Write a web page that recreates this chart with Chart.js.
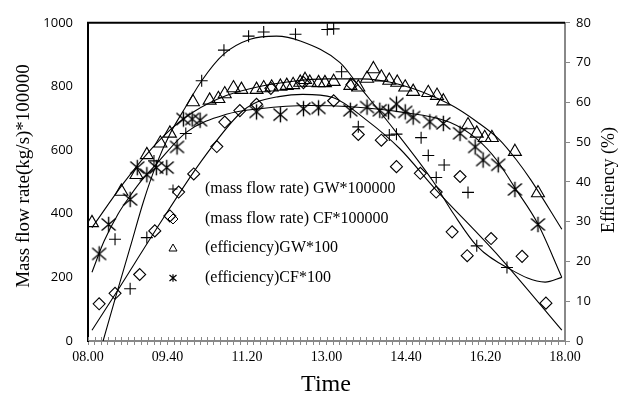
<!DOCTYPE html>
<html>
<head>
<meta charset="utf-8">
<script src="https://cdn.jsdelivr.net/npm/chart.js@4.4.1/dist/chart.umd.min.js"></script>
<style>
html,body{margin:0;padding:0;background:#fff;}
#wrap{width:625px;height:403px;}
</style>
</head>
<body>
<div id="wrap"><canvas id="chart" width="625" height="403"></canvas></div>
<script>
// time axis in minutes after 08.00
const timeLabels = ['08.00','09.40','11.20','13.00','14.40','16.20','18.00'];

// mass flow rate GW*100000 (left axis)
const gwFlowTime = [34,53,74,83,123,143,171,202,221,261,301,309,319,340,379,388,419,428,438,448,478,489,527];
const gwFlow     = [320,164,325,566,652,818,914,958,971,964,979,981,846,673,647,650,639,583,514,553,467,299,231];

// mass flow rate CF*100000 (left axis)
const cfFlowTime = [14,34,65,84,103,114,133,162,172,191,212,230,271,309,332,340,369,388,418,438,458,468,477,507,546,576];
const cfFlow     = [117,150,209,346,393,468,525,611,688,724,744,794,812,755,806,649,631,548,527,468,343,517,268,322,266,119];

// efficiency GW (right axis, %)
const gwEffTime = [5,42,61,74,91,103,132,153,164,172,183,193,212,221,231,242,250,258,267,273,279,290,298,309,330,340,351,359,369,379,389,399,409,428,439,447,478,489,499,508,537,566];
const gwEff     = [29.7,37.6,41.8,46.8,49.7,52.2,60.1,60.5,60.9,62.1,63.6,63.2,63.2,63.6,63.8,64.0,64.2,64.4,65.0,65.7,65.0,64.9,64.9,65.2,64.2,63.8,66.0,68.4,66.3,65.5,65.0,63.8,62.7,62.4,61.7,60.3,54.3,52.2,51.1,51.1,47.6,37.2];

// efficiency CF (right axis, %)
const cfEffTime = [14,26,53,62,74,86,99,112,120,131,141,212,242,271,290,330,351,367,378,388,399,409,430,447,468,487,497,516,537,566];
const cfEff     = [21.9,29.3,35.6,43.6,41.8,43.6,43.6,48.8,55.8,55.8,55.5,57.6,56.9,58.4,58.6,58.0,58.8,58.0,57.6,59.6,57.6,56.3,55.1,54.7,52.2,48.8,45.5,44.3,38.1,29.3];

// trend curves
const gwFlowFitTime = [19,36,53,70,86,104,122,143,170,204,237,267,317,340,388,434,460,489,527,575,596];
const gwFlowFit     = [0,149,294,440,555,655,732,818,900,948,958,943,875,804,655,502,399,299,231,185,200];
const cfFlowFitTime = [5,36,86,141,191,212,240,270,308,350,392,436,518,596];
const cfFlowFit     = [34,154,352,560,715,750,768,775,765,695,605,480,263,34];
const gwEffFitTime  = [5,44,74,103,132,174,216,258,300,342,392,455,490,518,539,557,596];
const gwEffFit      = [28.5,39.5,47,53,57.5,61.7,64,65.3,65.9,65.9,64.5,59.5,55,50.5,45.5,40.5,28.1];
const cfEffFitTime  = [5,20,38,53,70,86,124,174,216,279,330,392,455,489,514,537,566,596];
const cfEffFit      = [17.3,25,32,36.5,41,44.5,52.5,57,58.4,59.2,58.9,57.6,55,50.8,45.5,38.5,29.4,16];

const legendNames = ['(mass flow rate) GW*100000','(mass flow rate) CF*100000','(efficiency)GW*100','(efficiency)CF*100'];

const serif = '"Liberation Serif", "Times New Roman", serif';
const sans = '"Open Sans", "Liberation Sans", sans-serif';

function pts(xs, ys) {
  return xs.map((x, i) => ({x: x, y: ys[i]}));
}

// six-armed asterisk marker
function drawStar(g, x, y, r) {
  g.beginPath();
  g.moveTo(x, y - r * 1.1); g.lineTo(x, y + r * 1.1);
  g.moveTo(x - r, y - r * 0.85); g.lineTo(x + r, y + r * 0.85);
  g.moveTo(x + r, y - r * 0.85); g.lineTo(x - r, y + r * 0.85);
  g.stroke();
}
function makeStar(r) {
  const c = document.createElement('canvas');
  const s = Math.ceil(r * 2.4 + 2);
  c.width = s; c.height = s;
  const g = c.getContext('2d');
  g.strokeStyle = '#000';
  g.lineWidth = 1.4;
  drawStar(g, s / 2, s / 2, r);
  return c;
}
const starImg = makeStar(7);

function markers(data, style, radius, axis) {
  return {
    data: data, yAxisID: axis, showLine: false,
    pointStyle: style, pointRadius: radius,
    pointBorderColor: '#000', pointBackgroundColor: 'rgba(0,0,0,0)',
    pointBorderWidth: 1.1
  };
}
function curve(data, axis) {
  return {
    data: data, yAxisID: axis, showLine: true,
    borderColor: '#000', borderWidth: 1.1, pointRadius: 0,
    cubicInterpolationMode: 'monotone', fill: false
  };
}

const frame = {
  id: 'frame',
  afterDraw(chart) {
    const {ctx, chartArea: a, scales} = chart;
    ctx.save();
    // top border
    ctx.strokeStyle = '#000';
    ctx.lineWidth = 2;
    ctx.beginPath();
    ctx.moveTo(a.left - 1, a.top); ctx.lineTo(a.right, a.top);
    ctx.stroke();
    // upper half of the time ticks
    ctx.strokeStyle = '#888';
    ctx.lineWidth = 1;
    scales.x.ticks.forEach(t => {
      const px = Math.round(scales.x.getPixelForValue(t.value)) + 0.5;
      ctx.beginPath();
      ctx.moveTo(px, a.bottom - 4); ctx.lineTo(px, a.bottom);
      ctx.stroke();
    });
    // axis titles
    ctx.fillStyle = '#000';
    ctx.textAlign = 'center';
    ctx.textBaseline = 'middle';
    ctx.font = '24px ' + serif;
    ctx.fillText('Time', 326, 385);
    ctx.save();
    ctx.translate(24, 176);
    ctx.rotate(-Math.PI / 2);
    ctx.font = '19px ' + serif;
    ctx.fillText('Mass flow rate(kg/s)*100000', 0, 0);
    ctx.restore();
    ctx.save();
    ctx.translate(609, 180);
    ctx.rotate(-Math.PI / 2);
    ctx.font = '18px ' + serif;
    ctx.fillText('Efficiency (%)', 0, 0);
    ctx.restore();
    // legend
    ctx.font = '16px ' + serif;
    ctx.textAlign = 'left';
    ctx.strokeStyle = '#000';
    ctx.lineWidth = 1;
    const lx = 173, ly = [189, 219, 248, 278];
    ly.forEach((y, i) => ctx.fillText(legendNames[i], 205, y));
    ctx.beginPath();
    ctx.moveTo(lx - 4.5, ly[0]); ctx.lineTo(lx + 4.5, ly[0]);
    ctx.moveTo(lx, ly[0] - 4.5); ctx.lineTo(lx, ly[0] + 4.5);
    ctx.moveTo(lx, ly[1] - 5); ctx.lineTo(lx + 5, ly[1]);
    ctx.lineTo(lx, ly[1] + 5); ctx.lineTo(lx - 5, ly[1]); ctx.closePath();
    ctx.moveTo(lx, ly[2] - 4); ctx.lineTo(lx + 4, ly[2] + 3);
    ctx.lineTo(lx - 4, ly[2] + 3); ctx.closePath();
    ctx.stroke();
    ctx.lineWidth = 1.2;
    drawStar(ctx, lx, ly[3], 3.5);
    ctx.restore();
  }
};

new Chart(document.getElementById('chart'), {
  type: 'scatter',
  data: {
    datasets: [
      markers(pts(gwFlowTime, gwFlow), 'cross', 6, 'y'),
      markers(pts(cfFlowTime, cfFlow), 'rectRot', 6, 'y'),
      markers(pts(gwEffTime, gwEff), 'triangle', 7.5, 'y1'),
      markers(pts(cfEffTime, cfEff), starImg, 7, 'y1'),
      curve(pts(gwFlowFitTime, gwFlowFit), 'y'),
      curve(pts(cfFlowFitTime, cfFlowFit), 'y'),
      curve(pts(gwEffFitTime, gwEffFit), 'y1'),
      curve(pts(cfEffFitTime, cfEffFit), 'y1')
    ]
  },
  options: {
    responsive: false,
    animation: false,
    devicePixelRatio: 1,
    layout: {padding: {top: 20, left: 0, right: 0, bottom: 0}},
    plugins: {legend: {display: false}, tooltip: {enabled: false}},
    events: [],
    scales: {
      x: {
        type: 'linear', min: 0, max: 600,
        afterBuildTicks: s => {
          s.ticks = Array.from({length: 73}, (_, i) => ({value: i * 100 / 12}));
        },
        afterFit: s => { s.height = 62; },
        ticks: {
          autoSkip: false, maxRotation: 0, padding: 4,
          color: '#000', font: {family: serif, size: 14},
          callback: (v, i) => (i % 12 === 0 ? timeLabels[i / 12] : '')
        },
        grid: {drawOnChartArea: false, tickLength: 4, color: '#888'},
        border: {color: '#888', width: 2}
      },
      y: {
        position: 'left', min: 0, max: 1000,
        afterFit: s => { s.width = 88; },
        ticks: {stepSize: 200, padding: 15, color: '#000', font: {family: sans, size: 13},
          callback: v => String(v)},
        grid: {display: false, drawTicks: false},
        border: {color: '#000', width: 2}
      },
      y1: {
        position: 'right', min: 0, max: 80,
        afterFit: s => { s.width = 60; },
        ticks: {stepSize: 10, padding: 6, color: '#000', font: {family: sans, size: 13},
          callback: v => String(v)},
        grid: {drawOnChartArea: false, tickLength: 5, color: '#888'},
        border: {color: '#888', width: 2}
      }
    }
  },
  plugins: [frame]
});
</script>
</body>
</html>
